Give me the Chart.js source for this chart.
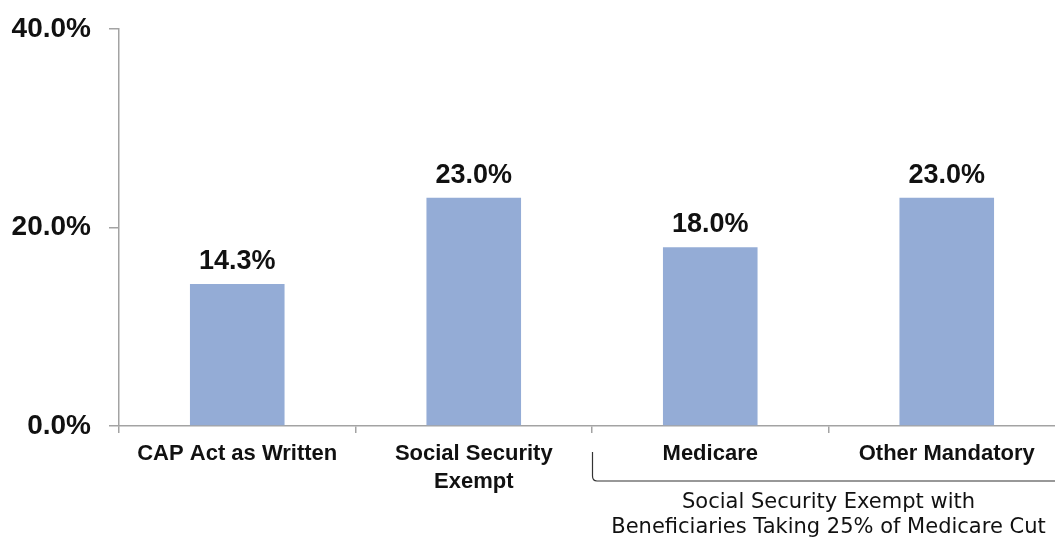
<!DOCTYPE html>
<html>
<head>
<meta charset="utf-8">
<script src="https://cdn.jsdelivr.net/npm/chart.js@4/dist/chart.umd.min.js"></script>
<style>
  html, body { margin: 0; padding: 0; background: #ffffff; overflow: hidden; }
  #wrap { width: 1055px; height: 542px; overflow: hidden; }
  canvas { display: block; }
</style>
</head>
<body>
<div id="wrap"><canvas id="chart" width="1065" height="542"></canvas></div>
<script>
// Scenario categories (multi-line labels) and their shares, in percent
const categories = [
  ['CAP Act as Written'],
  ['Social Security', 'Exempt'],
  ['Medicare'],
  ['Other Mandatory']
];
const shares = [14.3, 23.0, 18.0, 23.0];
const yTicks = [0, 20, 40];

// Bracketed group under the last two categories
const groupLabel = ['Social Security Exempt with', 'Beneficiaries Taking 25% of Medicare Cut'];
const groupFirst = 2;
const groupLast = 3;

const AXIS_GRAY = '#a3a3a3';
const TEXT = '#111111';
const BOLD_FONT = '"Liberation Sans", Arial, sans-serif';

const fmtPct = v => Number(v).toFixed(1) + '%';

// Value labels above each bar
const valueLabels = {
  id: 'valueLabels',
  afterDatasetsDraw(chart) {
    const ctx = chart.ctx;
    const meta = chart.getDatasetMeta(0);
    ctx.save();
    ctx.font = 'bold 27px ' + BOLD_FONT;
    ctx.fillStyle = TEXT;
    ctx.textAlign = 'center';
    ctx.textBaseline = 'alphabetic';
    meta.data.forEach((bar, i) => {
      ctx.fillText(fmtPct(chart.data.datasets[0].data[i]), bar.x, bar.y - 15);
    });
    ctx.restore();
  }
};

// Bracket and caption spanning a group of categories
const groupBracket = {
  id: 'groupBracket',
  afterDraw(chart) {
    const x = chart.scales.x;
    const ctx = chart.ctx;
    const half = (x.getPixelForValue(1) - x.getPixelForValue(0)) / 2;
    const left = x.getPixelForValue(groupFirst) - half;
    const right = x.getPixelForValue(groupLast) + half;
    const base = chart.chartArea.bottom;
    const top = base + 26;
    const lineY = base + 55;
    const r = 5;
    ctx.save();
    ctx.strokeStyle = '#333333';
    ctx.lineWidth = 1.2;
    ctx.beginPath();
    ctx.moveTo(left + 0.5, top);
    ctx.lineTo(left + 0.5, lineY - r);
    ctx.quadraticCurveTo(left + 0.5, lineY, left + r, lineY);
    ctx.lineTo(right, lineY);
    ctx.stroke();

    ctx.font = '21px "DejaVu Sans", Verdana, sans-serif';
    ctx.fillStyle = TEXT;
    ctx.textAlign = 'center';
    ctx.textBaseline = 'alphabetic';
    const cx = (left + right) / 2;
    groupLabel.forEach((line, i) => {
      ctx.fillText(line, cx, base + 82 + i * 25);
    });
    ctx.restore();
  }
};

new Chart(document.getElementById('chart'), {
  type: 'bar',
  data: {
    labels: categories,
    datasets: [{
      data: shares,
      backgroundColor: '#94acd6',
      borderWidth: 0,
      barPercentage: 0.8,
      categoryPercentage: 0.5
    }]
  },
  options: {
    responsive: false,
    devicePixelRatio: 1,
    animation: false,
    layout: { padding: { top: 29, right: 0, bottom: 0, left: 0 } },
    plugins: {
      legend: { display: false },
      tooltip: { enabled: false }
    },
    scales: {
      x: {
        offset: true,
        grid: {
          display: true,
          drawOnChartArea: false,
          drawTicks: true,
          tickLength: 7,
          color: AXIS_GRAY,
          lineWidth: 1.5,
          offset: true
        },
        border: { display: true, color: AXIS_GRAY, width: 1.5 },
        ticks: {
          color: TEXT,
          padding: 7,
          maxRotation: 0,
          autoSkip: false,
          font: { family: BOLD_FONT, size: 22, weight: 'bold', lineHeight: 1.27 }
        },
        afterFit(scale) {
          scale.height = 116;
          scale.paddingLeft = 0;
          scale.paddingRight = 0;
        }
      },
      y: {
        min: 0,
        max: 40,
        afterBuildTicks(scale) { scale.ticks = yTicks.map(v => ({ value: v })); },
        grid: {
          display: true,
          drawOnChartArea: false,
          drawTicks: true,
          tickLength: 10,
          color: AXIS_GRAY,
          lineWidth: 1.5
        },
        border: { display: true, color: AXIS_GRAY, width: 1.5 },
        ticks: {
          color: TEXT,
          padding: 18,
          callback: v => fmtPct(v),
          font: { family: BOLD_FONT, size: 28, weight: 'bold' }
        },
        afterFit(scale) {
          scale.width = 119;
          scale.paddingTop = 0;
          scale.paddingBottom = 0;
        }
      }
    }
  },
  plugins: [valueLabels, groupBracket]
});
</script>
</body>
</html>
